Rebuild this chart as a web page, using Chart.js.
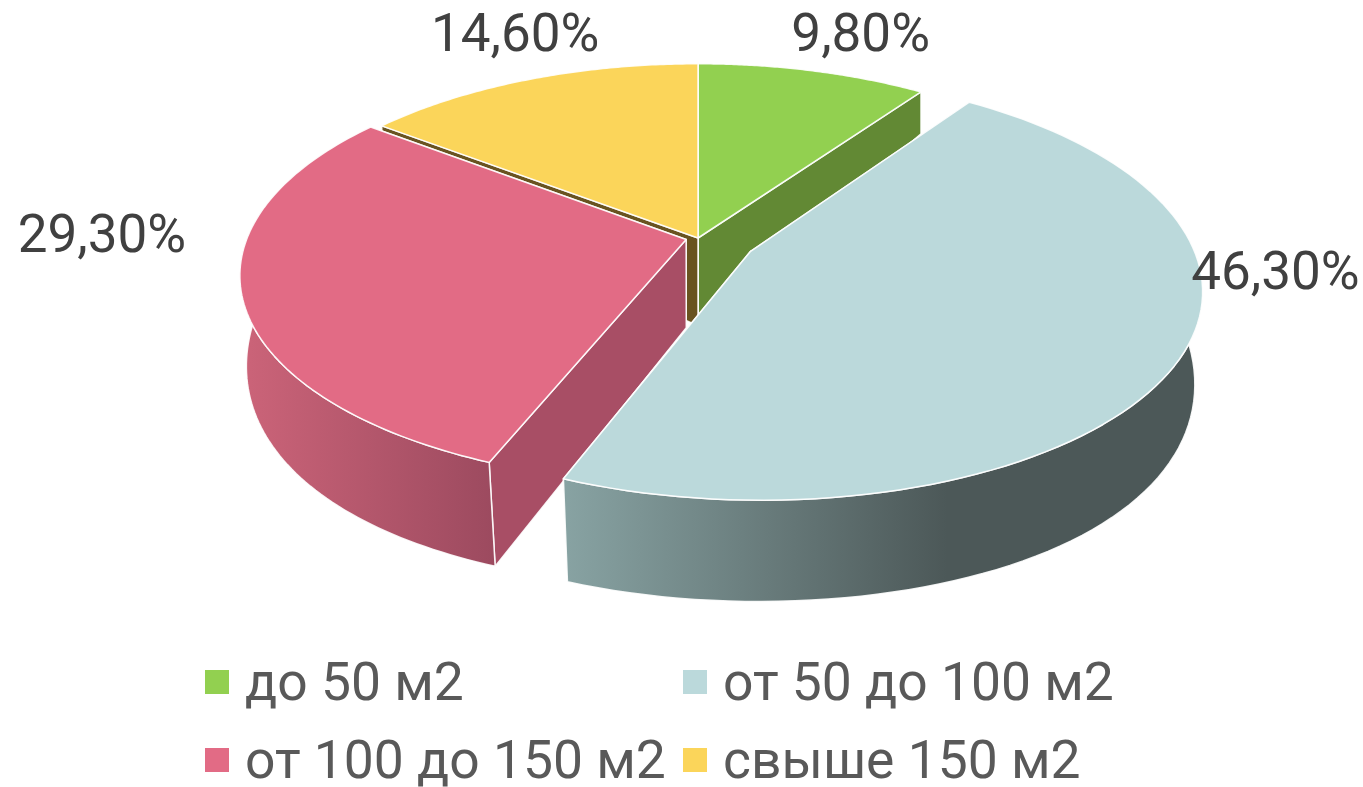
<!DOCTYPE html>
<html lang="ru">
<head>
<meta charset="utf-8">
<title>Площадь</title>
<script src="https://cdn.jsdelivr.net/npm/chart.js@4"></script>
<style>
  html, body { margin: 0; padding: 0; background: #fff; overflow: hidden; }
  #wrap { position: relative; width: 1363px; height: 787px; }
  #legend span { position: absolute; font: 400 53.4px Roboto, sans-serif; color: #595959; line-height: 60px; white-space: nowrap; }
  #legend i { position: absolute; width: 24px; height: 24px; }
</style>
</head>
<body>
<div id="wrap">
  <canvas id="pie" width="1363" height="787"></canvas>
  <div id="legend"></div>
</div>
<script>
// chart data
const categories = ["до 50 м2", "от 50 до 100 м2", "от 100 до 150 м2", "свыше 150 м2"];
const shares = [9.8, 46.3, 29.3, 14.6];

// colours, per slice
const topColors = ["#92d050", "#bbd9db", "#e26b85", "#fbd55a"];
const sideColors = ["#628934", "#4c5858", "#a84e65", "#695320"];
const wallStops = [null, [[0, "#88a3a3"], [0.6, "#4c5858"], [1, "#4c5858"]], [[0, "#cc6479"], [1, "#9c4a5f"]], null];

// how far each slice is pulled out, as part of the radius
const explode = [0, 0.135, 0.028, 0];
// label nudge from the rim of its slice
const labelNudge = [[48, -33], [96, -83], [-140, -57], [-14, -42]];

// perspective of the top and bottom planes
const topPlane = { ax: 439, ay: 203, kx: 0.168, ky: 0.165, dy: 0 };
const botPlane = { ax: 434, ay: 245, kx: 0.152, ky: 0.05, dy: 88 };

function project(plane, arc, u, v) {
    return {
        x: arc.x + plane.ax * u / (1 - plane.kx * v),
        y: arc.y + plane.dy + plane.ay * v / (1 - plane.ky * v)
    };
}

function pathOf(ctx, pts) {
    ctx.beginPath();
    pts.forEach((p, i) => i ? ctx.lineTo(p.x, p.y) : ctx.moveTo(p.x, p.y));
    ctx.closePath();
}

// the pie is projected by hand, Chart.js only gives the angles and the centre
const pie3d = {
    id: "pie3d",
    beforeDatasetsDraw(chart) {
        const ctx = chart.ctx;
        const arcs = chart.getDatasetMeta(0).data;
        const order = [0, 3, 2, 1]; // back to front

        ctx.save();
        ctx.lineJoin = "round";
        order.forEach(i => {
            const arc = arcs[i];
            const a0 = arc.startAngle + Math.PI / 2;
            const a1 = arc.endAngle + Math.PI / 2;
            const mid = (a0 + a1) / 2;
            const ox = Math.sin(mid) * explode[i];
            const oy = -Math.cos(mid) * explode[i];

            const rim = [];
            for (let s = 0; s <= 90; s++) {
                const a = a0 + (a1 - a0) * s / 90;
                rim.push([ox + Math.sin(a), oy - Math.cos(a)]);
            }
            const topRim = rim.map(r => project(topPlane, arc, r[0], r[1]));
            const botRim = rim.map(r => project(botPlane, arc, r[0], r[1]));
            const topC = project(topPlane, arc, ox, oy);
            const botC = project(botPlane, arc, ox, oy);

            ctx.strokeStyle = "rgba(255,255,255,0.9)";
            ctx.lineWidth = 1.5;

            // inner walls, the far one first so the near one covers it
            ctx.fillStyle = sideColors[i];
            [[topRim[90], botRim[90]], [topRim[0], botRim[0]]].forEach(e => {
                pathOf(ctx, [topC, e[0], e[1], botC]);
                ctx.fill();
                ctx.stroke();
            });

            // outer wall, front part only
            if (wallStops[i]) {
                const front = rim.map((r, k) => k).filter(k => rim[k][1] - oy > -0.15);
                const upper = front.map(k => topRim[k]);
                const lower = front.map(k => botRim[k]);
                const xs = upper.concat(lower).map(p => p.x);
                const grad = ctx.createLinearGradient(Math.min(...xs), 0, Math.max(...xs), 0);
                wallStops[i].forEach(s => grad.addColorStop(s[0], s[1]));
                ctx.fillStyle = grad;
                pathOf(ctx, upper.concat(lower.reverse()));
                ctx.fill();
                ctx.stroke();
            }

            // top face
            ctx.fillStyle = topColors[i];
            pathOf(ctx, [topC].concat(topRim));
            ctx.fill();
            ctx.stroke();
        });

        // percent labels
        ctx.font = "400 53px Roboto, sans-serif";
        ctx.fillStyle = "#404040";
        ctx.textAlign = "center";
        ctx.textBaseline = "middle";
        arcs.forEach((arc, i) => {
            const mid = (arc.startAngle + arc.endAngle) / 2 + Math.PI / 2;
            const p = project(topPlane, arc,
                Math.sin(mid) * (1 + explode[i]), -Math.cos(mid) * (1 + explode[i]));
            const text = shares[i].toFixed(2).replace(".", ",") + "%";
            ctx.fillText(text, p.x + labelNudge[i][0], p.y + labelNudge[i][1]);
        });
        ctx.restore();
        return false; // skip the flat arcs
    }
};

const chart = new Chart(document.getElementById("pie").getContext("2d"), {
    type: "pie",
    data: {
        labels: categories,
        datasets: [{ data: shares, backgroundColor: topColors, borderWidth: 0 }]
    },
    options: {
        responsive: false,
        animation: false,
        layout: { padding: { left: 33, bottom: 311 } },
        plugins: { legend: { display: false }, tooltip: { enabled: false } }
    },
    plugins: [pie3d]
});

// legend in two fixed columns
const legendBox = document.getElementById("legend");
const legendCols = [205, 683];
const legendRows = [670, 748];
categories.forEach((name, i) => {
    const col = legendCols[i % 2];
    const row = legendRows[Math.floor(i / 2)];
    const box = document.createElement("i");
    box.style.cssText = `left:${col}px;top:${row}px;background:${topColors[i]}`;
    const label = document.createElement("span");
    label.textContent = name;
    label.style.cssText = `left:${col + 40}px;top:${row - 18}px`;
    legendBox.append(box, label);
});
</script>
</body>
</html>
